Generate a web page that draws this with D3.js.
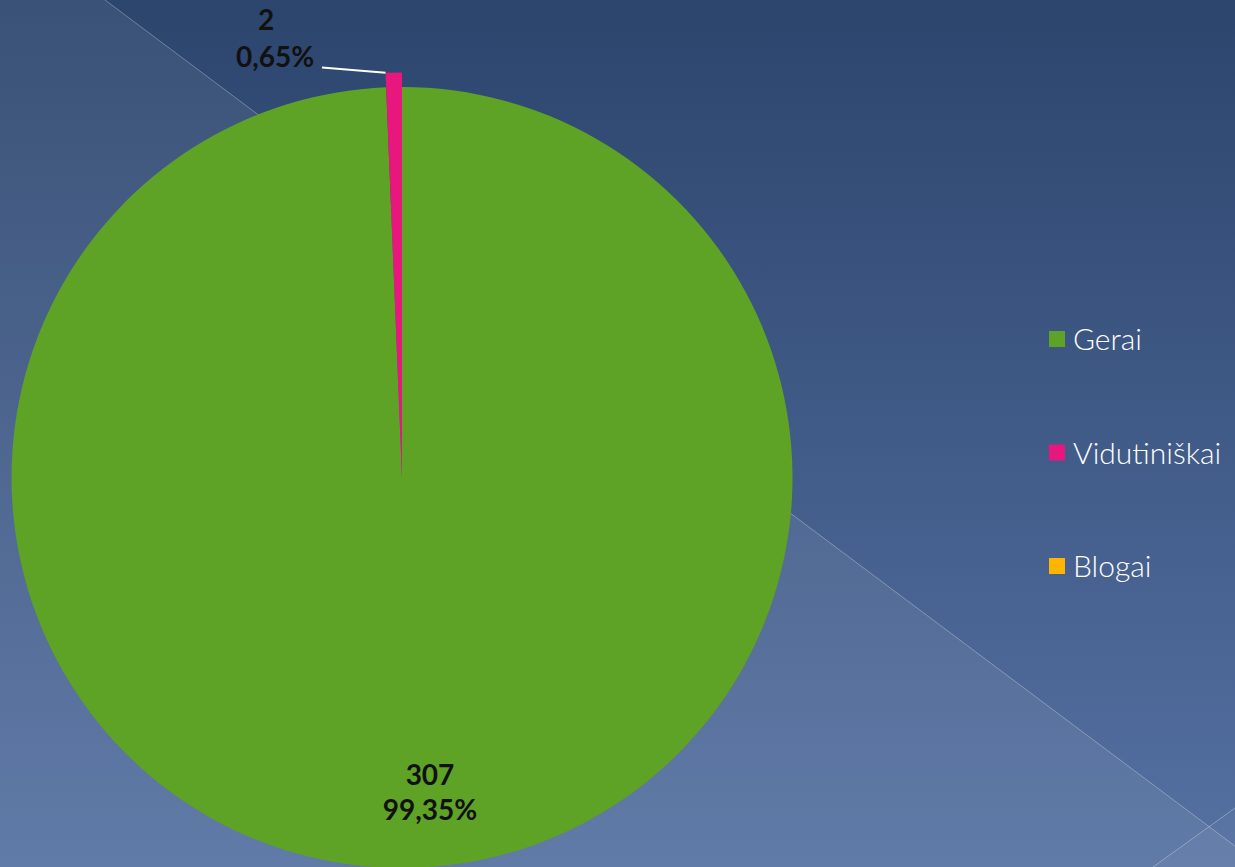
<!DOCTYPE html>
<html lang="lt">
<head>
<meta charset="UTF-8">
<title>Pie</title>
<script src="https://cdn.jsdelivr.net/npm/d3@7"></script>
<style>
  html, body { margin: 0; padding: 0; background: #2d466e; }
  svg { display: block; }
  .lbl { font-family: "Lato", "DejaVu Sans", sans-serif; font-weight: 700; fill: #111; }
  .leg text { font-family: "Lato", "DejaVu Sans", sans-serif; fill: #fff; }
</style>
</head>
<body>
<div class="app"></div>
<script>
  // data
  var categories = ["Gerai", "Vidutiniškai", "Blogai"];
  var values = [307, 2, 0];
  var colors = ["#5ea226", "#e8177d", "#ffb400"];

  var width = 1235, height = 867;
  var svg = d3.select(".app").append("svg")
      .attr("width", width).attr("height", height);

  // background
  var defs = svg.append("defs");
  var grad = defs.append("linearGradient").attr("id", "bg")
      .attr("x1", 0).attr("y1", 0).attr("x2", 0).attr("y2", 1);
  grad.append("stop").attr("offset", "0%").attr("stop-color", "#2c456d");
  grad.append("stop").attr("offset", "100%").attr("stop-color", "#5571a2");
  svg.append("rect").attr("width", width).attr("height", height).attr("fill", "url(#bg)");

  svg.append("path")
      .attr("d", "M105,0 L1263,867 L0,867 L0,0 Z")
      .attr("fill", "#fff").attr("fill-opacity", 0.07);
  svg.append("path")
      .attr("d", "M1153,867 L1235,808 L1235,867 Z")
      .attr("fill", "#fff").attr("fill-opacity", 0.04);
  svg.append("line").attr("x1", 105).attr("y1", 0).attr("x2", 1263).attr("y2", 867)
      .attr("stroke", "#fff").attr("stroke-opacity", 0.3).attr("stroke-width", 1);
  svg.append("line").attr("x1", 1153).attr("y1", 867).attr("x2", 1235).attr("y2", 808)
      .attr("stroke", "#fff").attr("stroke-opacity", 0.3).attr("stroke-width", 1);

  // pie
  var cx = 402, cy = 477.5, r = 390.5, rBig = 405;
  var total = d3.sum(values);
  var fmt = function(v) { return d3.format(".2f")(v / total * 100).replace(".", ",") + "%"; };

  var pie = d3.pie().sort(null).value(function(d) { return d; });
  var arcs = pie(values);
  var g = svg.append("g").attr("transform", "translate(" + cx + "," + cy + ")");

  var arcNormal = d3.arc().innerRadius(0).outerRadius(r);
  var arcBig = d3.arc().innerRadius(0).outerRadius(rBig);

  g.selectAll("path.slice")
      .data(arcs)
      .enter().append("path")
      .attr("class", "slice")
      .attr("d", function(d, i) { return i === 1 ? arcBig(d) : arcNormal(d); })
      .attr("fill", function(d, i) { return colors[i]; });

  // label for main slice (inside)
  var gLbl = g.append("text").attr("class", "lbl")
      .attr("text-anchor", "middle").style("font-size", "28px");
  gLbl.append("tspan").attr("x", 28).attr("y", 307).text(values[0]);
  gLbl.append("tspan").attr("x", 28).attr("y", 342).text(fmt(values[0]));

  // label for small slice (outside with leader)
  var a1 = arcs[1];
  var px = rBig * Math.sin(a1.startAngle), py = -rBig * Math.cos(a1.startAngle);
  g.append("path")
      .attr("d", "M" + px + "," + py + " L" + (-80) + "," + (-410))
      .attr("stroke", "#fff").attr("stroke-width", 2).attr("fill", "none");
  var sLbl = g.append("text").attr("class", "lbl")
      .attr("text-anchor", "middle").style("font-size", "28px");
  sLbl.append("tspan").attr("x", -136).attr("y", -448).text(values[1]);
  sLbl.append("tspan").attr("x", -127).attr("y", -411).text(fmt(values[1]));

  // legend
  var leg = svg.append("g").attr("class", "leg")
      .attr("transform", "translate(1049,331)");
  var item = leg.selectAll("g").data(categories).enter().append("g")
      .attr("transform", function(d, i) { return "translate(0," + (i * 113.5) + ")"; });
  item.append("rect").attr("width", 16).attr("height", 16)
      .attr("fill", function(d, i) { return colors[i]; });
  item.append("text").attr("x", 24).attr("y", 19)
      .style("font-size", "30px").style("font-weight", 300)
      .text(function(d) { return d; });
</script>
</body>
</html>
